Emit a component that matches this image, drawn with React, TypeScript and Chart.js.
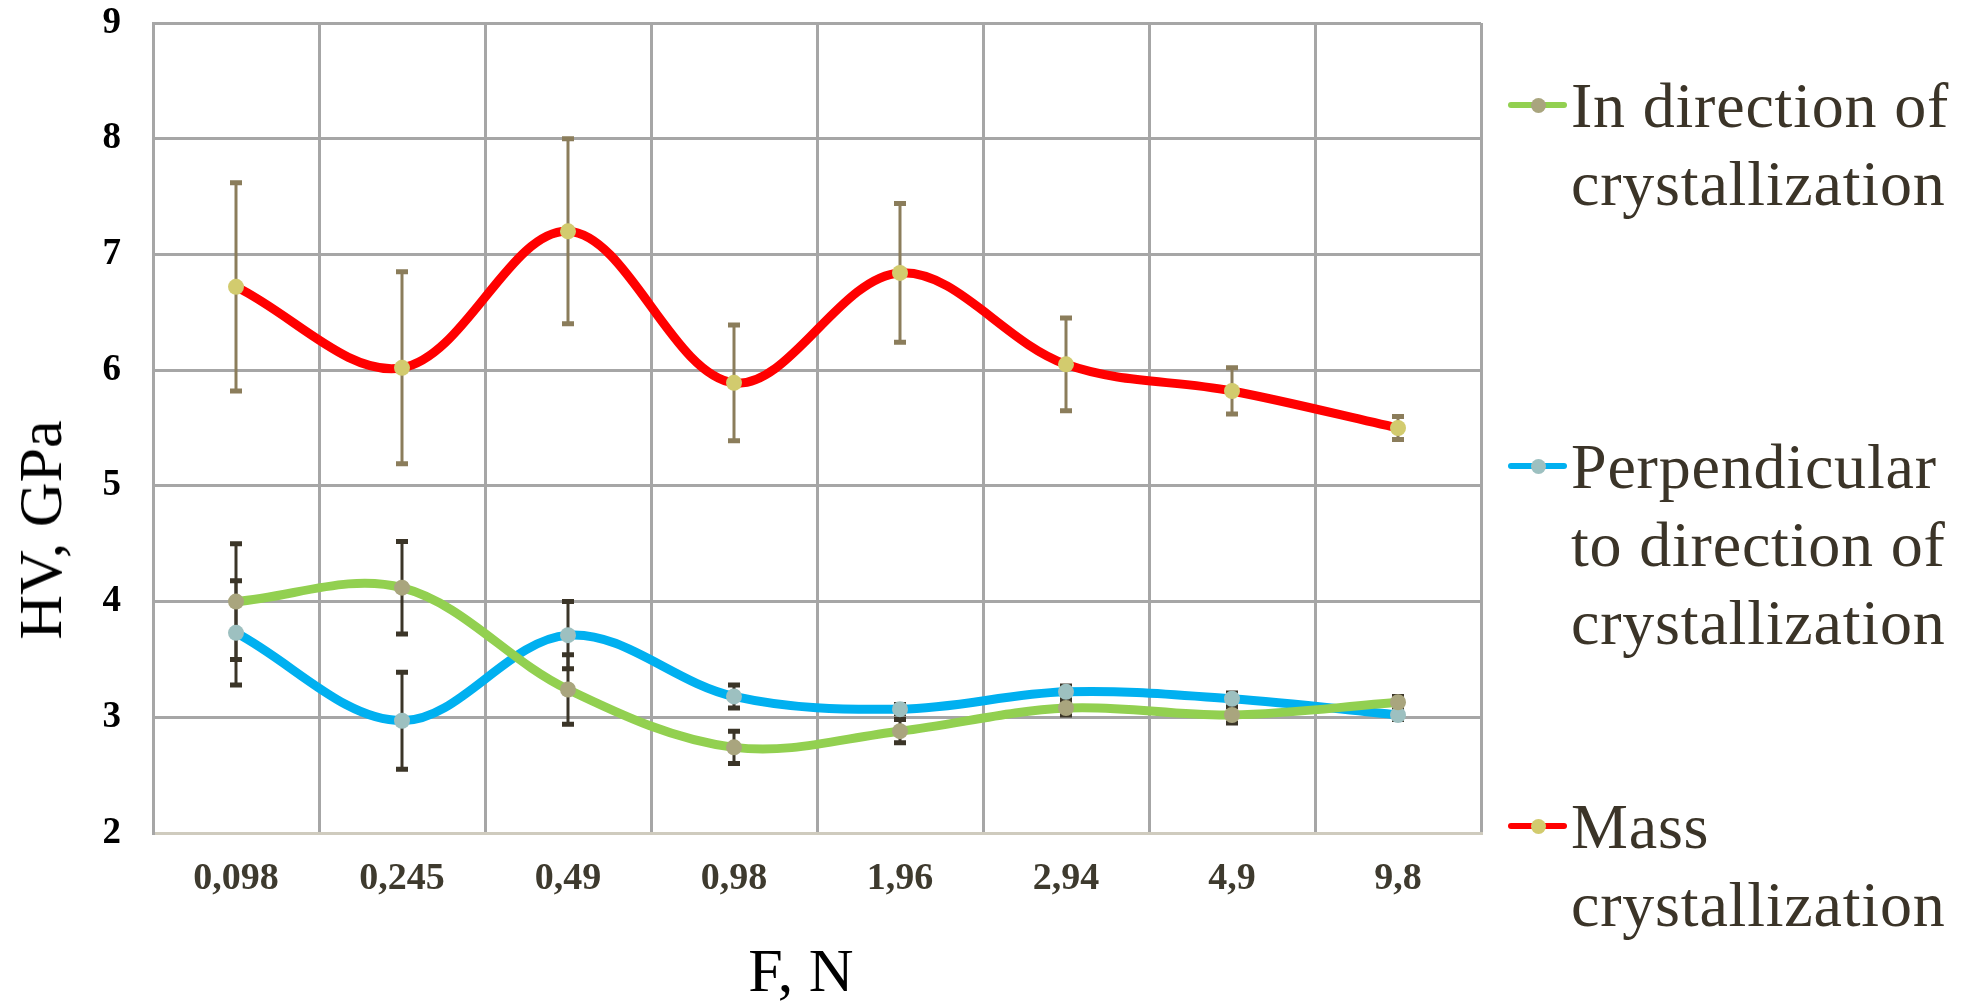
import React, { useEffect, useRef } from 'react';
import { Chart, registerables } from 'chart.js';

Chart.register(...registerables);

// ---------- data ----------
const categories = ['0,098', '0,245', '0,49', '0,98', '1,96', '2,94', '4,9', '9,8'];

const inDirection = [4.0, 4.12, 3.24, 2.74, 2.88, 3.08, 3.02, 3.13];
const inDirectionErr = [0.5, 0.4, 0.3, 0.14, 0.1, 0.06, 0.07, 0.05];

const perpendicular = [3.73, 2.97, 3.71, 3.18, 3.07, 3.22, 3.16, 3.02];
const perpendicularErr = [0.45, 0.42, 0.29, 0.1, 0.04, 0.05, 0.05, 0.04];

const mass = [6.72, 6.02, 7.2, 5.89, 6.84, 6.05, 5.82, 5.5];
const massErr = [0.9, 0.83, 0.8, 0.5, 0.6, 0.4, 0.2, 0.1];

const seriesLabels = [
  'In direction of\ncrystallization',
  'Perpendicular\nto direction of\ncrystallization',
  'Mass\ncrystallization',
];

const yMin = 2;
const yMax = 9;
const yTitle = 'HV, GPa';
const xTitle = 'F, N';

// ---------- styles ----------
const FONT = '"Liberation Serif", "Times New Roman", serif';
const lineColors = ['#92D050', '#00B0F0', '#FF0000'];
const markerColors = ['#A9A57E', '#9DC0C0', '#D2CB6E'];
const errorColors = ['#3B3528', '#3B3528', '#8B7D5B'];
const errorSets = [inDirectionErr, perpendicularErr, massErr];
const legendLineY = [105, 466, 826];
const TEXT_COLOR = '#3B3428';

export default function App() {
  const ref = useRef<HTMLCanvasElement>(null);

  useEffect(() => {
    document.body.style.margin = '0';
    const canvas = ref.current;
    if (!canvas) return;

    const errorBars = {
      id: 'errorBars',
      beforeDatasetsDraw(chart: any) {
        const ctx = chart.ctx;
        const xs = chart.scales.x;
        const ys = chart.scales.y;
        chart.data.datasets.forEach((ds: any, di: number) => {
          const errs = errorSets[di];
          if (!errs) return;
          ctx.save();
          ctx.strokeStyle = errorColors[di];
          ds.data.forEach((v: number, i: number) => {
            const x = xs.getPixelForValue(i);
            const yt = ys.getPixelForValue(v + errs[i]);
            const yb = ys.getPixelForValue(v - errs[i]);
            ctx.lineWidth = 3;
            ctx.beginPath();
            ctx.moveTo(x, yt);
            ctx.lineTo(x, yb);
            ctx.stroke();
            ctx.lineWidth = 5;
            ctx.beginPath();
            ctx.moveTo(x - 6, yt);
            ctx.lineTo(x + 6, yt);
            ctx.moveTo(x - 6, yb);
            ctx.lineTo(x + 6, yb);
            ctx.stroke();
          });
          ctx.restore();
        });
      },
    };

    const seriesData = [inDirection, perpendicular, mass];

    const chart = new Chart(canvas, {
      type: 'line',
      data: {
        labels: categories,
        datasets: seriesData.map((d, i) => ({
          label: seriesLabels[i].replace(/\n/g, ' '),
          data: d,
          borderColor: lineColors[i],
          backgroundColor: lineColors[i],
          borderWidth: 9,
          tension: 0.35,
          cubicInterpolationMode: 'default' as const,
          pointRadius: 8,
          pointBorderWidth: 0,
          pointBackgroundColor: markerColors[i],
          pointBorderColor: markerColors[i],
          fill: false,
        })),
      },
      options: {
        animation: false,
        responsive: false,
        devicePixelRatio: 1,
        layout: { padding: { left: 0, top: 23, right: 481, bottom: 0 } },
        plugins: {
          legend: { display: false },
          tooltip: { enabled: false },
        },
        scales: {
          x: {
            type: 'category',
            offset: true,
            grid: {
              offset: true,
              color: '#A6A6A6',
              lineWidth: 3,
              drawTicks: false,
            },
            border: { color: '#CFCBBE', width: 3 },
            ticks: {
              color: '#3E3A2E',
              padding: 23,
              font: { family: FONT, size: 38, weight: 'bold' },
              maxRotation: 0,
              autoSkip: false,
            },
            afterFit(scale: any) {
              scale.height = 169;
              scale.paddingLeft = 0;
              scale.paddingRight = 0;
            },
          },
          y: {
            min: yMin,
            max: yMax,
            grid: {
              color: '#A6A6A6',
              lineWidth: 3,
              drawTicks: false,
            },
            border: { color: '#A6A6A6', width: 3 },
            ticks: {
              stepSize: 1,
              color: '#000000',
              padding: 32,
              font: { family: FONT, size: 37, weight: 'bold' },
            },
            afterFit(scale: any) {
              scale.width = 153;
              scale.paddingTop = 0;
              scale.paddingBottom = 0;
            },
          },
        },
      },
      plugins: [errorBars],
    });

    return () => chart.destroy();
  }, []);

  const textTops = legendLineY.map((y) => y + 24 - 62);

  return (
    <div style={{ position: 'relative', width: 1962, height: 1002, overflow: 'hidden', background: '#fff' }}>
      <canvas ref={ref} width={1962} height={1002} style={{ position: 'absolute', left: 0, top: 0 }} />
      <div
        style={{
          position: 'absolute',
          left: 40,
          top: 530,
          transform: 'translate(-50%, -50%) rotate(-90deg)',
          font: `62px ${FONT}`,
          lineHeight: '62px',
          whiteSpace: 'nowrap',
          color: '#000',
        }}
      >
        {yTitle}
      </div>
      <div
        style={{
          position: 'absolute',
          left: 801,
          top: 970,
          transform: 'translate(-50%, -50%)',
          font: `62px ${FONT}`,
          lineHeight: '62px',
          whiteSpace: 'nowrap',
          color: '#000',
        }}
      >
        {xTitle}
      </div>
      {seriesLabels.map((lab, i) => (
        <React.Fragment key={i}>
          <div
            style={{
              position: 'absolute',
              left: 1508,
              top: legendLineY[i] - 3,
              width: 59,
              height: 6,
              borderRadius: 3,
              background: lineColors[i],
            }}
          />
          <div
            style={{
              position: 'absolute',
              left: 1538 - 7.5,
              top: legendLineY[i] - 7.5,
              width: 15,
              height: 15,
              borderRadius: '50%',
              background: markerColors[i],
            }}
          />
          <div
            style={{
              position: 'absolute',
              left: 1571,
              top: textTops[i],
              font: `64px ${FONT}`,
              lineHeight: '78px',
              letterSpacing: '0.8px',
              whiteSpace: 'pre',
              color: TEXT_COLOR,
            }}
          >
            {lab}
          </div>
        </React.Fragment>
      ))}
    </div>
  );
}
